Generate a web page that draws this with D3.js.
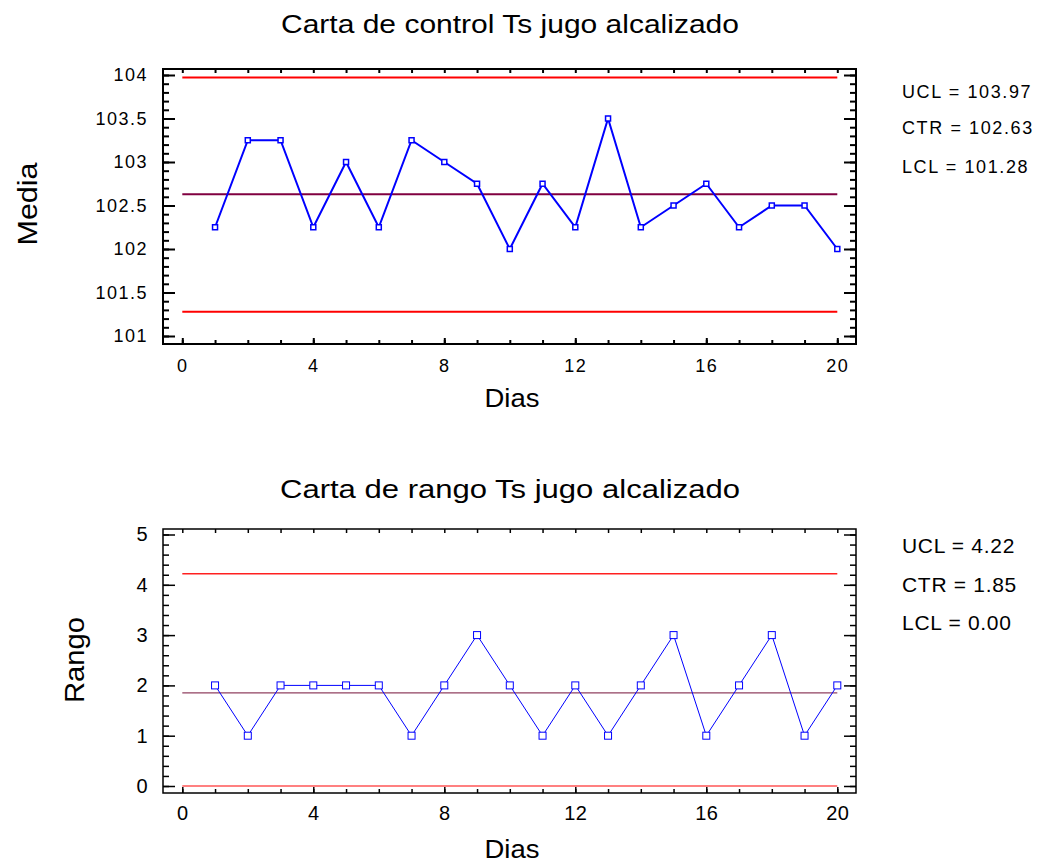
<!DOCTYPE html>
<meta charset="utf-8">
<script src="https://d3js.org/d3.v7.min.js"></script>
<body style="margin:0;background:#fff">
<div id="chart"></div>
<script>

// data
var dias = [1, 2, 3, 4, 5, 6, 7, 8, 9, 10, 11, 12, 13, 14, 15, 16, 17, 18, 19, 20];
var media = [102.25, 103.25, 103.25, 102.25, 103.0, 102.25, 103.25, 103.0, 102.75, 102.0,
             102.75, 102.25, 103.5, 102.25, 102.5, 102.75, 102.25, 102.5, 102.5, 102.0];
var rango = [2, 1, 2, 2, 2, 2, 1, 2, 3, 2, 1, 2, 1, 2, 3, 1, 2, 3, 1, 2];

var limNombres = ["UCL", "CTR", "LCL"];
var limMedia = [103.97, 102.63, 101.28];
var limRango = [4.22, 1.85, 0.00];

var xTicks = [0, 4, 8, 12, 16, 20];
var yTicksMedia = [101, 101.5, 102, 102.5, 103, 103.5, 104];
var yTicksRango = [0, 1, 2, 3, 4, 5];

var W = 1043, H = 865;
var svg = d3.select("#chart").append("svg")
  .attr("width", W).attr("height", H)
  .style("font-family", "'Liberation Sans', Arial, sans-serif");

function panel(o) {
  var x = d3.scaleLinear().domain([0, 20]).range([182.3, 837.3]);
  var y = d3.scaleLinear().domain(o.yDom).range(o.yRange);
  var g = svg.append("g");
  var L = 163, R = 856, T = o.top, B = o.bottom;

  // ticks
  function clean(sel) {
    sel.select(".domain").remove();
    sel.selectAll("line").attr("stroke", "#000").attr("stroke-width", o.tickW);
    sel.selectAll("text").attr("fill", "#000").style("font-size", o.tickFs + "px")
      .style("letter-spacing", o.ls + "px");
  }
  g.append("g").attr("transform", "translate(" + L + ",0)")
    .call(d3.axisLeft(y).tickValues(o.minorY).tickSize(-6).tickFormat("")).call(clean);
  g.append("g").attr("transform", "translate(" + L + ",0)")
    .call(d3.axisLeft(y).tickValues(o.yTicks).tickSize(-12).tickPadding(o.yPad)
      .tickFormat(function (d) { return String(d); })).call(clean);
  g.append("g").attr("transform", "translate(" + R + ",0)")
    .call(d3.axisRight(y).tickValues(o.minorY).tickSize(-6).tickFormat("")).call(clean);
  g.append("g").attr("transform", "translate(" + R + ",0)")
    .call(d3.axisRight(y).tickValues(o.yTicks).tickSize(-12).tickFormat("")).call(clean);
  g.append("g").attr("transform", "translate(0," + T + ")")
    .call(d3.axisTop(x).tickValues(d3.range(0, 21)).tickSize(-4).tickFormat("")).call(clean);
  g.append("g").attr("transform", "translate(0," + B + ")")
    .call(d3.axisBottom(x).tickValues(d3.range(0, 21)).tickSize(-4).tickFormat("")).call(clean);
  g.append("g").attr("transform", "translate(0," + B + ")")
    .call(d3.axisBottom(x).tickValues(xTicks).tickSize(-6).tickPadding(o.xPad)
      .tickFormat(function (d) { return String(d); })).call(clean);

  // frame
  g.append("rect").attr("x", L).attr("y", T).attr("width", R - L).attr("height", B - T)
    .attr("fill", "none").attr("stroke", "#000").attr("stroke-width", o.frameW);

  // control limits
  g.selectAll(".lim").data(o.lims).enter().append("line")
    .attr("x1", x(0)).attr("x2", x(20))
    .attr("y1", function (d) { return y(d); }).attr("y2", function (d) { return y(d); })
    .attr("stroke", function (d, i) { return o.limColors[i]; })
    .attr("stroke-width", function (d, i) { return o.limW[i]; });

  // series
  var line = d3.line().x(function (d, i) { return x(dias[i]); }).y(function (d) { return y(d); });
  g.append("path").datum(o.vals).attr("d", line)
    .attr("fill", "none").attr("stroke", "#0000ff").attr("stroke-width", o.lineW);
  g.selectAll(".pt").data(o.vals).enter().append("rect")
    .attr("x", function (d, i) { return x(dias[i]) - o.ms / 2; })
    .attr("y", function (d) { return y(d) - o.ms / 2; })
    .attr("width", o.ms).attr("height", o.ms)
    .attr("fill", "#fff").attr("stroke", "#0000ff").attr("stroke-width", o.msW);

  // titles and labels
  g.append("text").attr("x", 510).attr("y", o.titleY).attr("text-anchor", "middle")
    .attr("textLength", o.titleLen).attr("lengthAdjust", "spacingAndGlyphs")
    .style("font-size", "26px").text(o.title);
  g.append("text").attr("x", 512).attr("y", o.diasY).attr("text-anchor", "middle")
    .attr("textLength", 55).attr("lengthAdjust", "spacingAndGlyphs")
    .style("font-size", "25px").text("Dias");
  g.append("text").attr("transform", "translate(" + o.ylabX + "," + o.ylabY + ") rotate(-90)")
    .attr("text-anchor", "middle")
    .attr("textLength", o.ylabLen).attr("lengthAdjust", "spacingAndGlyphs")
    .style("font-size", "28px").text(o.ylab);

  // legend
  g.selectAll(".leg").data(o.lims).enter().append("text")
    .attr("x", 902).attr("y", function (d, i) { return o.legY[i]; })
    .style("font-size", o.legFs + "px").style("letter-spacing", o.legLs + "px")
    .text(function (d, i) { return limNombres[i] + " = " + d.toFixed(2); });
}

panel({
  top: 69, bottom: 344,
  yDom: [101, 104], yRange: [336, 75],
  yTicks: yTicksMedia, minorY: d3.range(101, 104.01, 0.1),
  tickW: 2, frameW: 2, tickFs: 18, ls: 1.5, yPad: 15, xPad: 15,
  lims: limMedia, limColors: ["#ff0000", "#800040", "#ff0000"], limW: [2, 2, 2],
  vals: media, lineW: 2, ms: 5, msW: 1.5,
  title: "Carta de control Ts jugo alcalizado", titleY: 33, titleLen: 458,
  diasY: 407, ylab: "Media", ylabX: 37, ylabY: 204, ylabLen: 83,
  legY: [98, 134, 173], legFs: 18, legLs: 1.6
});

panel({
  top: 529, bottom: 793,
  yDom: [0, 5], yRange: [786, 534.5],
  yTicks: yTicksRango, minorY: d3.range(0, 5.01, 0.2),
  tickW: 1.5, frameW: 1.5, tickFs: 20, ls: 0.5, yPad: 15, xPad: 13,
  lims: limRango, limColors: ["#ff2020", "#904060", "#ff8080"], limW: [1.5, 1.2, 2],
  vals: rango, lineW: 1, ms: 7, msW: 1,
  title: "Carta de rango Ts jugo alcalizado", titleY: 498, titleLen: 460,
  diasY: 858, ylab: "Rango", ylabX: 84, ylabY: 660, ylabLen: 86,
  legY: [553, 592, 630], legFs: 21, legLs: 0.7
});

</script>
</body>
